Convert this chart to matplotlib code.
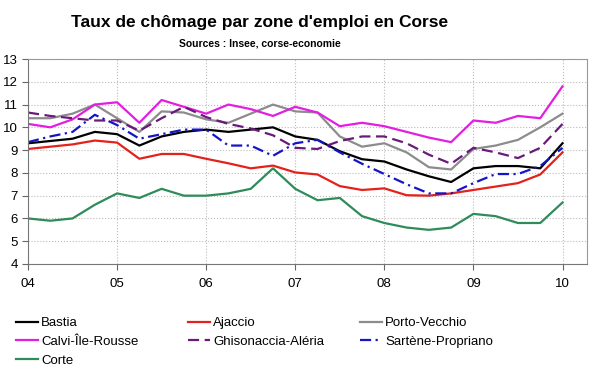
"""
Taux de chomage par zone d'emploi en Corse, 2004-2010 (trimestriel)
"""

import numpy as np
import matplotlib
matplotlib.use('Agg')
import matplotlib.pyplot as plt

plt.rcParams['font.family'] = ['Liberation Sans', 'DejaVu Sans']

# Quarterly data, 2004 Q1 -> 2010 Q1
quarters = np.arange(25)
year_ticks = [0, 4, 8, 12, 16, 20, 24]
year_labels = ['04', '05', '06', '07', '08', '09', '10']

bastia = [9.3, 9.4, 9.5, 9.8, 9.7, 9.2, 9.6, 9.8, 9.9, 9.8, 9.9, 10.0, 9.6,
          9.45, 8.95, 8.6, 8.5, 8.15, 7.85, 7.6, 8.2, 8.3, 8.3, 8.2, 9.3]
ajaccio = [9.05, 9.15, 9.25, 9.42, 9.33, 8.62, 8.83, 8.83, 8.62, 8.42, 8.2, 8.32, 8.02,
           7.93, 7.42, 7.25, 7.32, 7.02, 7.0, 7.1, 7.25, 7.4, 7.55, 7.93, 8.9]
porto_vecchio = [10.4, 10.4, 10.6, 11.0, 10.4, 9.8, 10.7, 10.65, 10.35, 10.2, 10.6, 11.0, 10.7,
                 10.65, 9.6, 9.15, 9.3, 8.9, 8.25, 8.15, 9.05, 9.2, 9.45, 10.0, 10.6]
calvi = [10.15, 10.0, 10.35, 11.0, 11.1, 10.2, 11.2, 10.9, 10.6, 11.0, 10.8, 10.5, 10.9,
         10.65, 10.05, 10.2, 10.05, 9.8, 9.55, 9.35, 10.3, 10.2, 10.5, 10.4, 11.8]
ghisonaccia = [10.65, 10.5, 10.4, 10.3, 10.3, 9.85, 10.4, 10.9, 10.45, 10.15, 9.95, 9.65, 9.1,
               9.05, 9.4, 9.6, 9.6, 9.3, 8.8, 8.4, 9.1, 8.9, 8.65, 9.1, 10.15]
sartene = [9.35, 9.6, 9.8, 10.55, 10.1, 9.5, 9.7, 9.9, 9.9, 9.2, 9.2, 8.75, 9.3,
           9.45, 8.9, 8.4, 7.95, 7.5, 7.1, 7.1, 7.55, 7.95, 7.95, 8.3, 9.1]
corte = [6.0, 5.9, 6.0, 6.6, 7.1, 6.9, 7.3, 7.0, 7.0, 7.1, 7.3, 8.2, 7.3,
         6.8, 6.9, 6.1, 5.8, 5.6, 5.5, 5.6, 6.2, 6.1, 5.8, 5.8, 6.7]

series = [
    ('Bastia', bastia, '#000000', '-'),
    ('Ajaccio', ajaccio, '#e3221b', '-'),
    ('Porto-Vecchio', porto_vecchio, '#8c8c8c', '-'),
    ('Calvi-Île-Rousse', calvi, '#e21fe0', '-'),
    ('Ghisonaccia-Aléria', ghisonaccia, '#6a1a7a', (0, (5, 2.5))),
    ('Sartène-Propriano', sartene, '#1515c8', (0, (5, 2, 1, 2))),
    ('Corte', corte, '#2e8b5a', '-'),
]

fig = plt.figure(figsize=(6, 3.72), dpi=100)
ax = fig.add_axes([28 / 600, 1 - 264 / 372, 559 / 600, 205 / 372])

handles = {}
for name, vals, color, ls in series:
    line, = ax.plot(quarters, vals, color=color, linestyle=ls, linewidth=1.6)
    handles[name] = line

ax.set_xlim(0, 25.1)
ax.set_ylim(4, 13)
ax.set_yticks(range(4, 14))
ax.set_xticks(year_ticks)
ax.set_xticklabels(year_labels)
ax.tick_params(axis='both', labelsize=9.5, length=4, width=0.8, color='#666666')
ax.tick_params(axis='x', pad=6)
ax.grid(True, linestyle=':', color='#bbbbbb', linewidth=0.8)
for side in ['left', 'bottom']:
    ax.spines[side].set_color('#777777')
for side in ['top', 'right']:
    ax.spines[side].set_color('#999999')

# Titles
fig.text(260 / 600, 1 - 22 / 372, "Taux de chômage par zone d'emploi en Corse",
         ha='center', va='center', fontsize=12.5, fontweight='bold')
fig.text(260 / 600, 1 - 44 / 372, 'Sources : Insee, corse-economie',
         ha='center', va='center', fontsize=7.5, fontweight='bold')

# Legend: three columns placed by hand
columns = [
    (['Bastia', 'Calvi-Île-Rousse', 'Corte'], 16),
    (['Ajaccio', 'Ghisonaccia-Aléria'], 188),
    (['Porto-Vecchio', 'Sartène-Propriano'], 360),
]
for names, xpix in columns:
    fig.legend([handles[n] for n in names], names, loc='upper left',
               bbox_to_anchor=(xpix / 600, 1 - 317 / 372), frameon=False,
               fontsize=9.5, handlelength=1.7, handletextpad=0.2,
               labelspacing=0.5, borderpad=0, borderaxespad=0)

fig.savefig('out.png', dpi=100, facecolor='white')
